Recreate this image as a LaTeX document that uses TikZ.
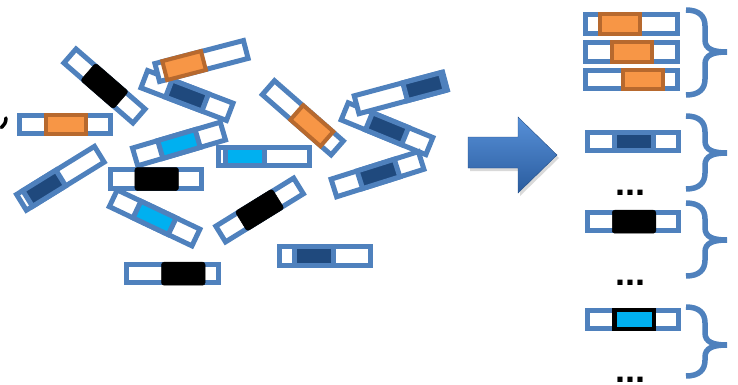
\documentclass[tikz,border=0pt]{standalone}
\usepackage{fontspec}
\setmainfont{Liberation Sans}
\usetikzlibrary{calc}
\definecolor{rodblue}{HTML}{4F81BD}
\definecolor{darkfill}{HTML}{1F497D}
\definecolor{cyanfill}{HTML}{00B0F0}
\definecolor{orangefill}{HTML}{F79646}
\definecolor{orangeedge}{HTML}{B7692E}
\definecolor{arrowtop}{HTML}{5790D8}
\definecolor{arrowbot}{HTML}{2A5C9E}
\tikzset{
  rodbox/.style={draw=rodblue, fill=white, line width=5pt, inner sep=0pt,
    minimum width=91.5pt, minimum height=18.5pt},
  orangeblk/.style={draw=orangeedge, fill=orangefill, line width=4pt, inner sep=0pt,
    minimum width=40pt, minimum height=19.5pt},
  darkblk/.style={draw=rodblue, fill=darkfill, line width=5pt, inner sep=0pt,
    minimum width=39pt, minimum height=18.5pt},
  cyanblk/.style={draw=rodblue, fill=cyanfill, line width=5pt, inner sep=0pt,
    minimum width=39pt, minimum height=18.5pt},
  blackblk/.style={draw=black, fill=black, line width=0.5pt, inner sep=0pt,
    minimum width=43.5pt, minimum height=23pt, rounded corners=2.5pt},
  cyanblackblk/.style={draw=black, fill=cyanfill, line width=4.5pt, inner sep=0pt,
    minimum width=39.5pt, minimum height=19pt},
  bracestyle/.style={draw=rodblue, line width=5.5pt},
  dotstext/.style={font=\fontsize{36}{36}\selectfont\bfseries, inner sep=0pt,
    anchor=base, text height=5.5pt, text depth=0pt},
}
\newcommand\rodat[6]{%
  \node[rodbox, rotate=#4] (#1) at (#2,#3) {};
  \node[#5, rotate=#4] (#1b) at ([shift={(#4:#6)}]#1.center) {};
}
\newcommand\bracepath[3]{%
  \draw[bracestyle] (686,-#1) .. controls (699,-#1) and (705,{-#1-6}) .. (705,{-#1-16})
    -- (705,{-#2+12}) .. controls (705,{-#2+3}) and (713,-#2) .. (727,-#2)
    .. controls (713,-#2) and (705,{-#2-3}) .. (705,{-#2-12})
    -- (705,{-#3+16}) .. controls (705,{-#3+6}) and (699,-#3) .. (686,-#3);
}
\begin{document}
\begin{tikzpicture}[x=1pt,y=1pt]
\useasboundingbox (0,0) rectangle (738,-385);

% comma-like mark at the left edge
\draw[line width=3.5pt, line cap=round] (6,-118) .. controls (6,-123) and (4,-125) .. (1.5,-127.5);

% left cluster of rods
\rodat{r16}{60.4}{-178.3}{31.7}{darkblk}{-19}
\rodat{r15}{65}{-124.5}{0}{orangeblk}{0.5}
\rodat{r1}{104.5}{-86}{-41}{blackblk}{0}
\rodat{r3}{187}{-95.5}{-20.9}{darkblk}{0}
\rodat{r2}{201.5}{-61}{14.6}{orangeblk}{-18}
\rodat{r4}{179}{-144}{16.4}{cyanblk}{0}
\rodat{r13}{154.6}{-217.9}{-25.4}{cyanblk}{0}
\rodat{r12}{156.2}{-179}{0}{blackblk}{0.5}
\rodat{r14}{172.3}{-273.7}{0}{blackblk}{11}
\rodat{r5}{264}{-156.7}{0}{cyanblk}{-19}
\rodat{r6}{302.8}{-117.8}{-41.2}{orangeblk}{12}
\rodat{r10}{259.6}{-210}{31.7}{blackblk}{0}
\rodat{r11}{325}{-255.8}{0}{darkblk}{-11}
\rodat{r8}{387}{-128.7}{-22.3}{darkblk}{0}
\rodat{r7}{400.8}{-92.9}{15}{darkblk}{24}
\rodat{r9}{377.5}{-174.2}{17.5}{darkblk}{1}

% block arrow
\fill[black, opacity=0.15] (470,-140) -- (520,-140) -- (520,-120) -- (559,-158) -- (520,-196) -- (520,-171) -- (470,-171) -- cycle;
\path[top color=arrowtop, bottom color=arrowbot, draw=arrowbot!85!black, line width=0.4pt]
  (468,-137) -- (518,-137) -- (518,-117) -- (557,-155) -- (518,-193) -- (518,-168) -- (468,-168) -- cycle;

% right side: sorted rods
\rodat{q1}{631.5}{-24}{0}{orangeblk}{-11.5}
\rodat{q2}{631.5}{-52}{0}{orangeblk}{0}
\rodat{q3}{631.5}{-79.5}{0}{orangeblk}{11}
\rodat{q4}{633}{-141.5}{0}{darkblk}{0.5}
\rodat{q5}{633}{-221.7}{0}{blackblk}{1}
\rodat{q6}{633}{-319.5}{0}{cyanblackblk}{1}

% braces
\bracepath{10}{52}{95}
\bracepath{116}{153}{189}
\bracepath{203}{240}{276}
\bracepath{307}{345}{376}

% dots
\node[dotstext] (d1) at (630.5,-195.5) {...};
\node[dotstext] (d2) at (630.5,-285.5) {...};
\node[dotstext] (d3) at (630.5,-382) {...};
\end{tikzpicture}
\end{document}
